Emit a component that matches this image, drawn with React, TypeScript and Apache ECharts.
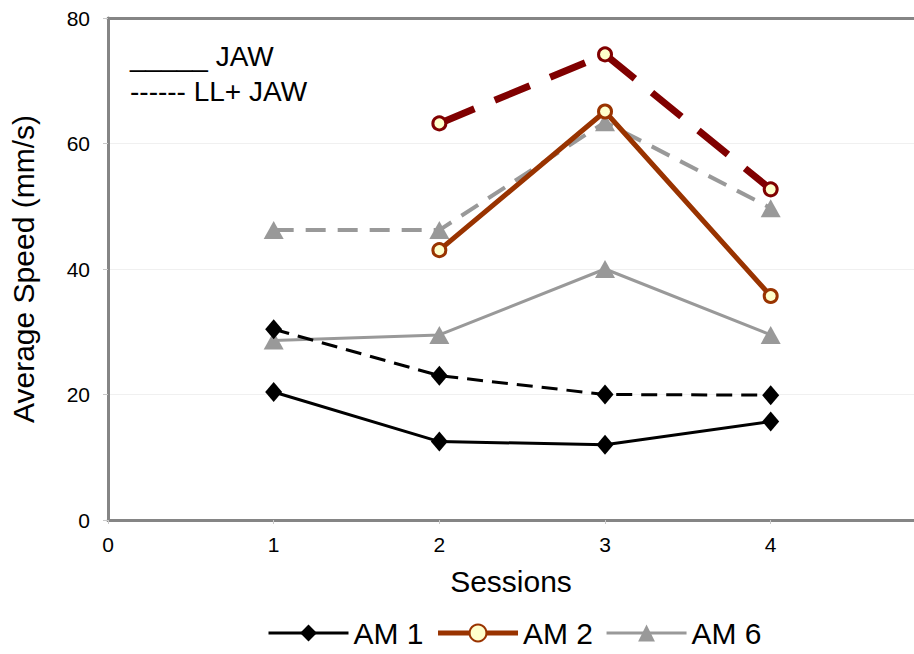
import React, { useEffect, useRef } from "react";
import * as echarts from "echarts";

const sessions = [1, 2, 3, 4];
const am1Jaw = [20.4, 12.5, 12.0, 15.7];
const am1LlJaw = [30.4, 23.0, 20.0, 19.9];
const am2Sessions = [2, 3, 4];
const am2Jaw = [43.0, 65.1, 35.7];
const am2LlJaw = [63.2, 74.2, 52.7];
const am6Jaw = [28.6, 29.5, 40.0, 29.5];
const am6LlJaw = [46.2, 46.2, 63.4, 49.7];
const legendNames = ["AM 1", "AM 2", "AM 6"];
const legendLineWidths = [3, 5, 3];
const noteLines = ["_____ JAW", "------ LL+ JAW"];

const FONT = "'Liberation Sans', Arial, Helvetica, sans-serif";

const pairs = (xs: number[], ys: number[]) => xs.map((x, i) => [x, ys[i]]);

export default function App() {
  const ref = useRef<HTMLDivElement>(null);
  useEffect(() => {
    if (!ref.current) return;
    const chart = echarts.init(ref.current, undefined, { renderer: "svg" });
    const axisColor = "#858585";
    chart.setOption({
      animation: false,
      backgroundColor: "#ffffff",
      textStyle: { fontFamily: FONT },
      grid: { left: 108, right: 0, top: 18, bottom: 134, containLabel: false },
      xAxis: [
        {
          type: "value",
          min: 0,
          max: 4.865,
          interval: 1,
          name: "Sessions",
          nameLocation: "middle",
          nameGap: 46,
          nameTextStyle: { fontSize: 30, color: "#000", fontFamily: FONT },
          axisLine: { show: true, lineStyle: { color: axisColor, width: 3 } },
          axisTick: { show: true, length: 4, lineStyle: { color: "#c8c8c8", width: 1 } },
          axisLabel: {
            fontSize: 21,
            color: "#000",
            margin: 14,
            showMaxLabel: false,
            formatter: (v: number) => (Number.isInteger(v) ? String(v) : ""),
          },
          splitLine: { show: false },
        },
        {
          type: "value",
          position: "top",
          min: 0,
          max: 4.865,
          interval: 1,
          axisLine: { show: true, lineStyle: { color: axisColor, width: 3 } },
          axisTick: { show: false },
          axisLabel: { show: false },
          splitLine: { show: false },
        },
      ],
      yAxis: {
        type: "value",
        min: 0,
        max: 80,
        interval: 20,
        name: "Average Speed (mm/s)",
        nameLocation: "middle",
        nameGap: 70,
        nameTextStyle: { fontSize: 30, color: "#000", fontFamily: FONT },
        axisLine: { show: true, lineStyle: { color: axisColor, width: 3 } },
        axisTick: { show: true, length: 5, lineStyle: { color: "#c8c8c8", width: 1 } },
        axisLabel: { fontSize: 21, color: "#000", margin: 18 },
        splitLine: { show: true, lineStyle: { color: "#f0f0f0", width: 1 } },
      },
      legend: {
        data: legendNames.map((n, i) => ({
          name: n,
          lineStyle: { width: legendLineWidths[i] },
        })),
        left: 262,
        top: 613,
        itemWidth: 80,
        itemHeight: 21,
        itemGap: 12,
        textStyle: { fontSize: 30, color: "#000", fontFamily: FONT },
      },
      graphic: noteLines.map((t, i) => ({
        type: "text",
        left: 130,
        top: 42 + i * 35,
        style: { text: t, fontSize: 28, fill: "#000", fontFamily: FONT },
      })),
      series: [
        {
          name: "AM 6 LL+ JAW",
          type: "line",
          data: pairs(sessions, am6LlJaw),
          lineStyle: { color: "#999999", width: 4, type: [20, 12] },
          itemStyle: { color: "#999999" },
          symbol: "triangle",
          symbolSize: [20, 18],
        },
        {
          name: "AM 6",
          type: "line",
          data: pairs(sessions, am6Jaw),
          lineStyle: { color: "#999999", width: 3 },
          itemStyle: { color: "#999999" },
          symbol: "triangle",
          symbolSize: [20, 18],
        },
        {
          name: "AM 1 LL+ JAW",
          type: "line",
          data: pairs(sessions, am1LlJaw),
          lineStyle: { color: "#000000", width: 3, type: [16, 9] },
          itemStyle: { color: "#000000" },
          symbol: "diamond",
          symbolSize: [17, 20],
        },
        {
          name: "AM 1",
          type: "line",
          data: pairs(sessions, am1Jaw),
          lineStyle: { color: "#000000", width: 3 },
          itemStyle: { color: "#000000" },
          symbol: "diamond",
          symbolSize: [17, 20],
        },
        {
          name: "AM 2 LL+ JAW",
          type: "line",
          data: pairs(am2Sessions, am2LlJaw),
          lineStyle: { color: "#800000", width: 7, type: [38, 22] },
          itemStyle: { color: "#FFFFCC", borderColor: "#800000", borderWidth: 3 },
          symbol: "circle",
          symbolSize: 13,
        },
        {
          name: "AM 2",
          type: "line",
          data: pairs(am2Sessions, am2Jaw),
          lineStyle: { color: "#993300", width: 5 },
          itemStyle: { color: "#FFFFCC", borderColor: "#993300", borderWidth: 3 },
          symbol: "circle",
          symbolSize: 13,
        },
      ],
    });
    return () => chart.dispose();
  }, []);
  return (
    <div
      ref={ref}
      style={{ position: "fixed", left: 0, top: 0, width: 914, height: 654 }}
    />
  );
}
